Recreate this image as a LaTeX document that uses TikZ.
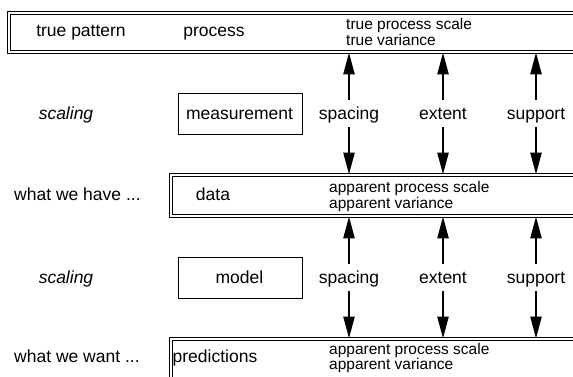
\documentclass[tikz,border=0pt]{standalone}
\usepackage{fontspec}
\setmainfont{Liberation Sans}
\usetikzlibrary{arrows.meta}
\tikzset{
  dbox/.style={draw, double, double distance=1.8pt, line width=0.9pt, anchor=north west, inner sep=0pt},
  sbox/.style={draw, line width=0.9pt, anchor=north west, inner sep=0pt, minimum width=124pt, minimum height=41pt},
  big/.style={font=\fontsize{17.5}{20}\selectfont, inner sep=0pt, anchor=base},
  small/.style={font=\fontsize{15.5}{13.8}\selectfont, align=left, anchor=west, inner sep=0pt},
  lab/.style={font=\fontsize{17.5}{20}\selectfont, text height=12pt, text depth=1pt, inner xsep=0pt, inner ysep=7pt},
  arr/.style={line width=2.4pt, -{Triangle[length=22pt,width=11pt]}}
}
\begin{document}
\begin{tikzpicture}[x=1pt,y=-1pt]
\useasboundingbox (0,0) rectangle (573,376);
\clip (0,0) rectangle (573,376);
% boxes
\node[dbox, minimum width=620pt, minimum height=39pt] (top) at (8.5,12.5) {};
\node[dbox, minimum width=450pt, minimum height=41pt] (data) at (170.5,174.5) {};
\node[dbox, minimum width=450pt, minimum height=60pt] (pred) at (170.5,338.5) {};
\node[sbox] (meas) at (178,93) {};
\node[sbox] (model) at (178,257) {};
% top row texts
\node[big] (tp) at (81,36) {true pattern};
\node[big] (proc) at (214,36) {process};
\node[small] (tps) at (346,32) {true process scale\\true variance};
% data row
\node[big, anchor=base west] (wh) at (14,200) {what we have ...};
\node[big] (dt) at (213,200) {data};
\node[small] (aps1) at (329,196.5) {apparent process scale\\apparent variance};
% predictions row
\node[big, anchor=base west] (ww) at (14,362) {what we want ...};
\node[big] (pr) at (215,362) {predictions};
\node[small] (aps2) at (329,358) {apparent process scale\\apparent variance};
% scaling rows
\node[big, font=\fontsize{17.5}{20}\selectfont\itshape] (sc1) at (66,119) {scaling};
\node[big] (me) at (239.5,119) {measurement};
\node[big, font=\fontsize{17.5}{20}\selectfont\itshape] (sc2) at (66,283) {scaling};
\node[big] (mo) at (239.5,283) {model};
% labels
\node[lab] (s1) at (349,113.5) {spacing};
\node[lab] (e1) at (443,113.5) {extent};
\node[lab] (u1) at (536,113.5) {support};
\node[lab] (s2) at (349,277.5) {spacing};
\node[lab] (e2) at (443,277.5) {extent};
\node[lab] (u2) at (536,277.5) {support};
% arrows
\foreach \n in {s1,e1,u1}{
  \draw[arr] (\n.north) -- (\n.north |- top.south);
  \draw[arr] (\n.south) -- (\n.south |- data.north);
}
\foreach \n in {s2,e2,u2}{
  \draw[arr] (\n.north) -- (\n.north |- data.south);
  \draw[arr] (\n.south) -- (\n.south |- pred.north);
}
\end{tikzpicture}
\end{document}
